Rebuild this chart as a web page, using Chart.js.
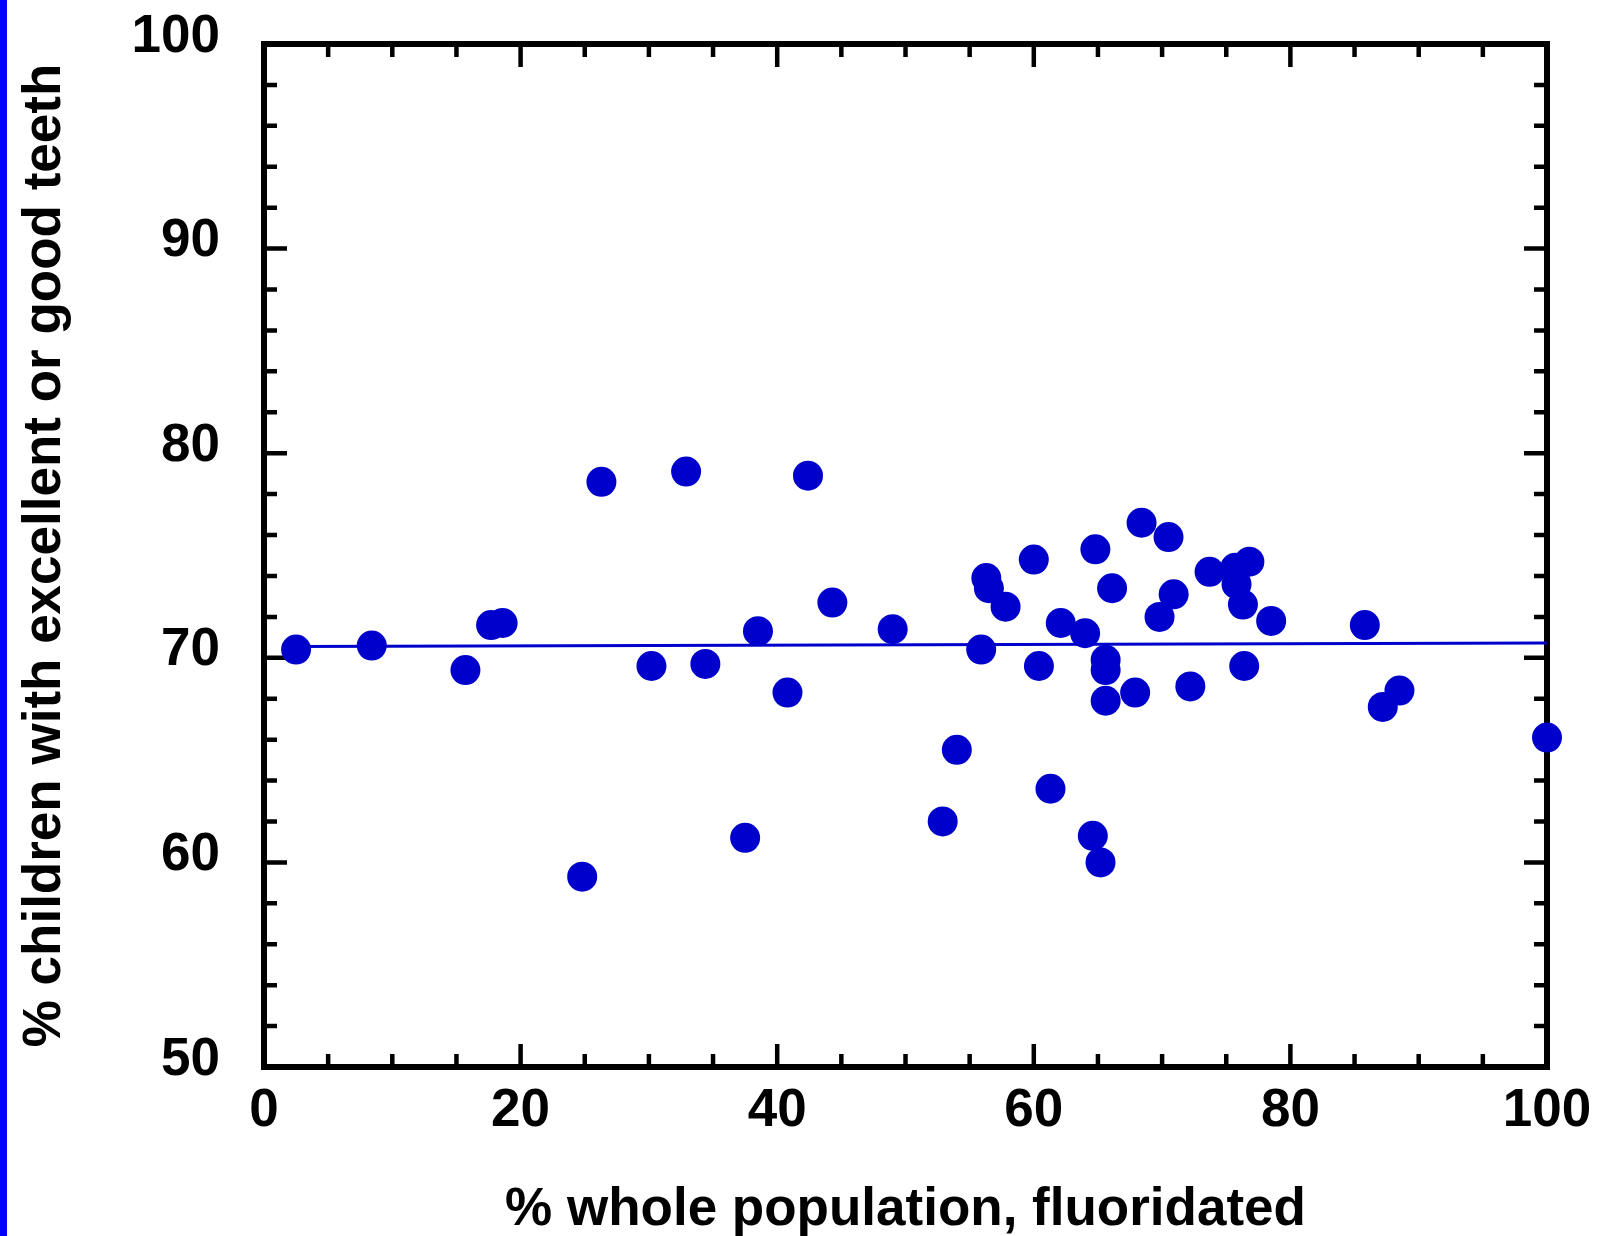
<!DOCTYPE html>
<html>
<head>
<meta charset="utf-8">
<script src="https://cdn.jsdelivr.net/npm/chart.js@4"></script>
<style>
  html, body { margin: 0; padding: 0; background: #fff; }
  #wrap { width: 1600px; height: 1236px; position: relative; }
</style>
</head>
<body>
<div id="wrap"><canvas id="chart"></canvas></div>
<script>
// % whole population fluoridated (x) vs % children with excellent/good teeth (y)
const fluoridated = [
  2.5, 8.4, 15.7, 17.7, 18.6, 24.8, 26.3, 30.2, 32.9, 34.4,
  37.5, 38.5, 40.8, 42.4, 44.3, 49.0, 52.9, 54.0, 55.9, 56.3,
  56.5, 57.8, 60.0, 60.4, 61.3, 62.1, 64.0, 64.6, 64.8, 65.2,
  65.6, 65.6, 65.6, 66.1, 67.9, 68.4, 69.8, 70.5, 70.9, 72.2,
  73.7, 75.7, 75.8, 76.3, 76.4, 76.8, 78.5, 85.8, 87.2, 88.5,
  100.0
];
const goodTeeth = [
  70.4, 70.6, 69.4, 71.6, 71.7, 59.3, 78.6, 69.6, 79.1, 69.7,
  61.2, 71.3, 68.3, 78.9, 72.7, 71.4, 62.0, 65.5, 70.4, 73.9,
  73.4, 72.5, 74.8, 69.6, 63.6, 71.7, 71.2, 61.3, 75.3, 60.0,
  69.9, 69.4, 67.9, 73.4, 68.3, 76.6, 72.0, 75.9, 73.1, 68.6,
  74.2, 74.4, 73.6, 72.6, 69.6, 74.7, 71.8, 71.6, 67.6, 68.4,
  66.1
];
// fitted line end points
const fitX = [2.5, 100];
const fitY = [70.55, 70.72];

const xTicks = [0, 20, 40, 60, 80, 100];
const yTicks = [50, 60, 70, 80, 90, 100];

const points = fluoridated.map((x, i) => ({ x: x, y: goodTeeth[i] }));
const fitLine = fitX.map((x, i) => ({ x: x, y: fitY[i] }));

const BLUE = '#0000cc';
const FONT = '"Liberation Sans", Arial, Helvetica, sans-serif';

// frame, inward ticks and the blue strip on the left
const framePlugin = {
  id: 'frame',
  beforeDatasetsDraw(chart) {
    const { ctx, chartArea: a, scales } = chart;
    const xs = scales.x, ys = scales.y;
    ctx.save();
    ctx.fillStyle = '#0000ff';
    ctx.fillRect(0, 0, 7, chart.height);

    ctx.strokeStyle = '#000';
    ctx.lineCap = 'butt';
    ctx.lineWidth = 4.5;
    for (let v = 0; v <= 100; v += 5) {
      const px = xs.getPixelForValue(v);
      const len = v % 20 === 0 ? 23 : 13;
      ctx.beginPath();
      ctx.moveTo(px, a.bottom); ctx.lineTo(px, a.bottom - len);
      ctx.moveTo(px, a.top); ctx.lineTo(px, a.top + len);
      ctx.stroke();
    }
    for (let v = 50; v <= 100; v += 2) {
      const py = ys.getPixelForValue(v);
      const len = v % 10 === 0 ? 23 : 13;
      ctx.beginPath();
      ctx.moveTo(a.left, py); ctx.lineTo(a.left + len, py);
      ctx.moveTo(a.right, py); ctx.lineTo(a.right - len, py);
      ctx.stroke();
    }
    ctx.lineWidth = 6;
    ctx.strokeRect(a.left, a.top, a.right - a.left, a.bottom - a.top);
    ctx.restore();
  }
};

new Chart(document.getElementById('chart'), {
  type: 'scatter',
  data: {
    datasets: [
      {
        label: 'States',
        data: points,
        backgroundColor: BLUE,
        borderWidth: 0,
        pointRadius: 15,
        pointHoverRadius: 15,
        order: 1
      },
      {
        type: 'line',
        label: 'Fit',
        data: fitLine,
        borderColor: BLUE,
        borderWidth: 3,
        pointRadius: 0,
        fill: false,
        order: 2
      }
    ]
  },
  options: {
    responsive: true,
    maintainAspectRatio: false,
    animation: false,
    events: [],
    clip: false,
    layout: { padding: { top: 44, right: 53, left: 0, bottom: 0 } },
    plugins: { legend: { display: false }, tooltip: { enabled: false } },
    scales: {
      x: {
        type: 'linear',
        min: 0,
        max: 100,
        afterBuildTicks: (s) => { s.ticks = xTicks.map(v => ({ value: v })); },
        afterFit: (s) => { s.height = 169; s.paddingLeft = 0; s.paddingRight = 0; },
        grid: { display: false, drawTicks: false },
        border: { display: false },
        ticks: {
          color: '#000',
          padding: 13,
          maxRotation: 0,
          font: { family: FONT, size: 53, weight: 'bold' }
        },
        title: {
          display: true,
          text: '% whole population, fluoridated',
          color: '#000',
          padding: { top: 0, bottom: -6 },
          font: { family: FONT, size: 53, weight: 'bold' }
        }
      },
      y: {
        type: 'linear',
        min: 50,
        max: 100,
        afterBuildTicks: (s) => { s.ticks = yTicks.map(v => ({ value: v })); },
        afterFit: (s) => { s.width = 264; s.paddingTop = 0; s.paddingBottom = 0; },
        grid: { display: false, drawTicks: false },
        border: { display: false },
        ticks: {
          color: '#000',
          padding: 44,
          labelOffset: -7,
          font: { family: FONT, size: 53, weight: 'bold' }
        },
        title: {
          display: true,
          text: '% children with excellent or good teeth',
          color: '#000',
          padding: { top: 14, bottom: 0 },
          font: { family: FONT, size: 53, weight: 'bold' }
        }
      }
    }
  },
  plugins: [framePlugin]
});
</script>
</body>
</html>
